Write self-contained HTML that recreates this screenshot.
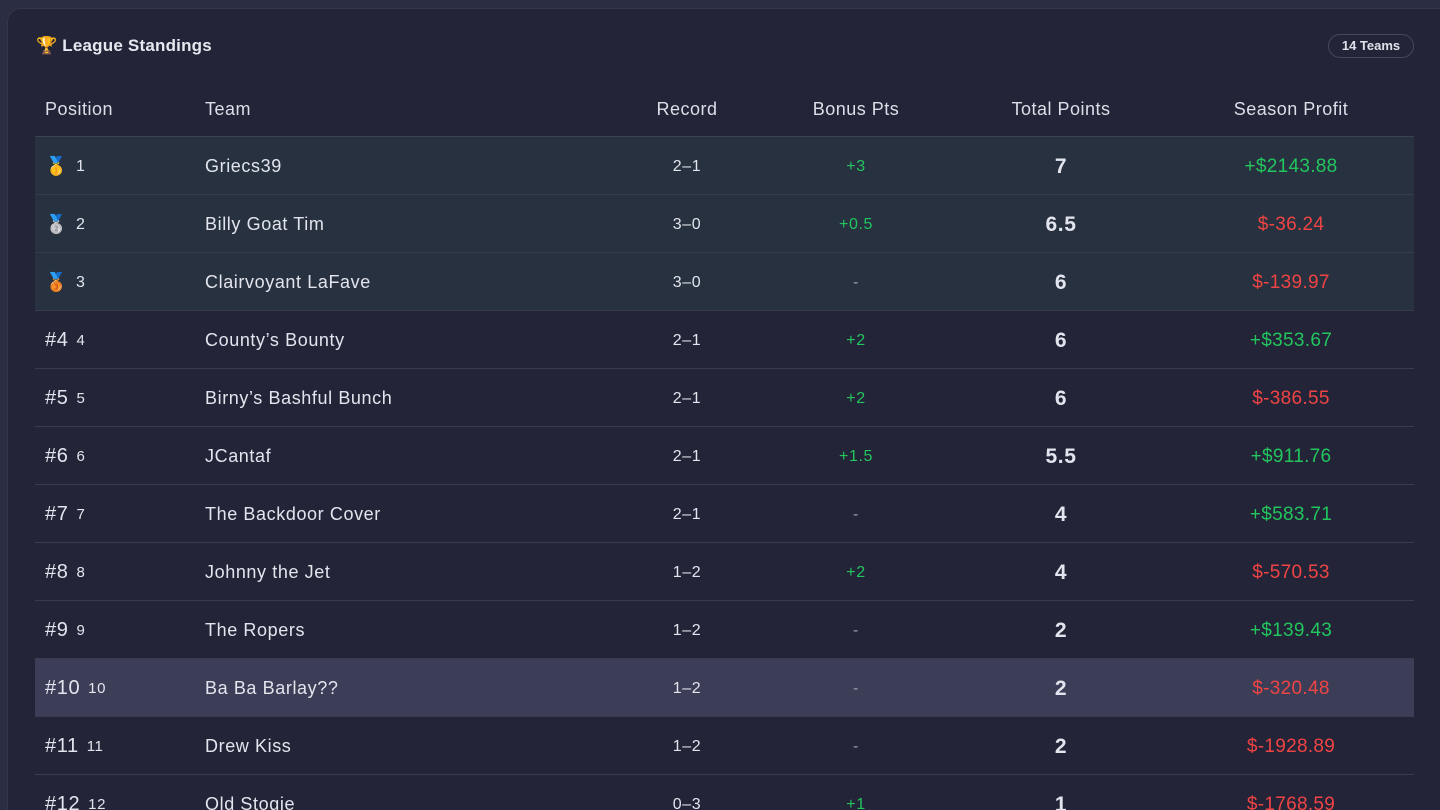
<!DOCTYPE html>
<html><head><meta charset="utf-8"><style>
*{margin:0;padding:0;box-sizing:border-box}
html,body{width:1440px;height:810px;overflow:hidden}
body{background:#2b2d43;font-family:"Liberation Sans","Noto Sans CJK SC",sans-serif;color:#e3e5ee;position:relative}
.card{position:absolute;left:7px;top:8px;width:1450px;height:840px;background:#232437;border-radius:14px;border:1px solid #34364c}
.title{position:absolute;left:36px;top:36px;font-size:17px;font-weight:bold;color:#e6e8f0;letter-spacing:0.2px}
.badge{position:absolute;left:1328px;top:34px;width:86px;height:24px;border:1px solid #45475e;border-radius:12px;font-size:13px;font-weight:bold;text-align:center;line-height:22px;color:#dfe1ea}
.hdr{position:absolute;top:88px;left:35px;width:1379px;height:49px;border-bottom:1px solid #3d3f55;font-size:18px;color:#dcdfe8;letter-spacing:0.5px}
.hdr .c{top:-3px}
.row{position:absolute;left:35px;width:1379px;height:58px;border-bottom:1px solid #393b50;font-size:18px;letter-spacing:0.6px}
.c{position:absolute;top:1px;height:100%;display:flex;align-items:center}
.pos{left:10px}.team{left:170px}
.ctr{transform:translateX(-50%);white-space:nowrap}
.rec{left:652px;font-size:16px}.bon{left:821px;font-size:16px}.tot{left:1026px;font-weight:bold;font-size:21px}.pro{left:1256px;font-size:19px;letter-spacing:0.3px}
.g{color:#22c55e}.r{color:#ef4444}.m{color:#9a9cae}
.sm{font-size:15px;margin-left:8px}
.big{font-size:20px}
</style></head><body>
<div class="card"></div>
<div class="title">🏆 League Standings</div>
<div class="badge">14 Teams</div>
<div class="hdr">
<div class="c pos">Position</div><div class="c team">Team</div>
<div class="c rec ctr" style="font-size:18px">Record</div><div class="c bon ctr" style="font-size:18px">Bonus Pts</div>
<div class="c tot ctr" style="font-size:18px;font-weight:normal">Total Points</div><div class="c pro ctr" style="font-size:18px;letter-spacing:0.5px">Season Profit</div>
</div>

<div class="row" style="top:137px;background:#27313f"><div class="c pos">🥇<span class="sm" style="font-size:16px">1</span></div><div class="c team">Griecs39</div><div class="c rec ctr">2–1</div><div class="c bon ctr g">+3</div><div class="c tot ctr">7</div><div class="c pro ctr g">+$2143.88</div></div>
<div class="row" style="top:195px;background:#27313f"><div class="c pos">🥈<span class="sm" style="font-size:16px">2</span></div><div class="c team">Billy Goat Tim</div><div class="c rec ctr">3–0</div><div class="c bon ctr g">+0.5</div><div class="c tot ctr">6.5</div><div class="c pro ctr r">$-36.24</div></div>
<div class="row" style="top:253px;background:#27313f"><div class="c pos">🥉<span class="sm" style="font-size:16px">3</span></div><div class="c team">Clairvoyant LaFave</div><div class="c rec ctr">3–0</div><div class="c bon ctr m">-</div><div class="c tot ctr">6</div><div class="c pro ctr r">$-139.97</div></div>
<div class="row" style="top:311px"><div class="c pos"><span class="big">#4</span><span class="sm">4</span></div><div class="c team">County’s Bounty</div><div class="c rec ctr">2–1</div><div class="c bon ctr g">+2</div><div class="c tot ctr">6</div><div class="c pro ctr g">+$353.67</div></div>
<div class="row" style="top:369px"><div class="c pos"><span class="big">#5</span><span class="sm">5</span></div><div class="c team">Birny’s Bashful Bunch</div><div class="c rec ctr">2–1</div><div class="c bon ctr g">+2</div><div class="c tot ctr">6</div><div class="c pro ctr r">$-386.55</div></div>
<div class="row" style="top:427px"><div class="c pos"><span class="big">#6</span><span class="sm">6</span></div><div class="c team">JCantaf</div><div class="c rec ctr">2–1</div><div class="c bon ctr g">+1.5</div><div class="c tot ctr">5.5</div><div class="c pro ctr g">+$911.76</div></div>
<div class="row" style="top:485px"><div class="c pos"><span class="big">#7</span><span class="sm">7</span></div><div class="c team">The Backdoor Cover</div><div class="c rec ctr">2–1</div><div class="c bon ctr m">-</div><div class="c tot ctr">4</div><div class="c pro ctr g">+$583.71</div></div>
<div class="row" style="top:543px"><div class="c pos"><span class="big">#8</span><span class="sm">8</span></div><div class="c team">Johnny the Jet</div><div class="c rec ctr">1–2</div><div class="c bon ctr g">+2</div><div class="c tot ctr">4</div><div class="c pro ctr r">$-570.53</div></div>
<div class="row" style="top:601px"><div class="c pos"><span class="big">#9</span><span class="sm">9</span></div><div class="c team">The Ropers</div><div class="c rec ctr">1–2</div><div class="c bon ctr m">-</div><div class="c tot ctr">2</div><div class="c pro ctr g">+$139.43</div></div>
<div class="row" style="top:659px;background:#3c3d56"><div class="c pos"><span class="big">#10</span><span class="sm">10</span></div><div class="c team">Ba Ba Barlay??</div><div class="c rec ctr">1–2</div><div class="c bon ctr m">-</div><div class="c tot ctr">2</div><div class="c pro ctr r">$-320.48</div></div>
<div class="row" style="top:717px"><div class="c pos"><span class="big">#11</span><span class="sm">11</span></div><div class="c team">Drew Kiss</div><div class="c rec ctr">1–2</div><div class="c bon ctr m">-</div><div class="c tot ctr">2</div><div class="c pro ctr r">$-1928.89</div></div>
<div class="row" style="top:775px"><div class="c pos"><span class="big">#12</span><span class="sm">12</span></div><div class="c team">Old Stogie</div><div class="c rec ctr">0–3</div><div class="c bon ctr g">+1</div><div class="c tot ctr">1</div><div class="c pro ctr r">$-1768.59</div></div>
</body></html>
